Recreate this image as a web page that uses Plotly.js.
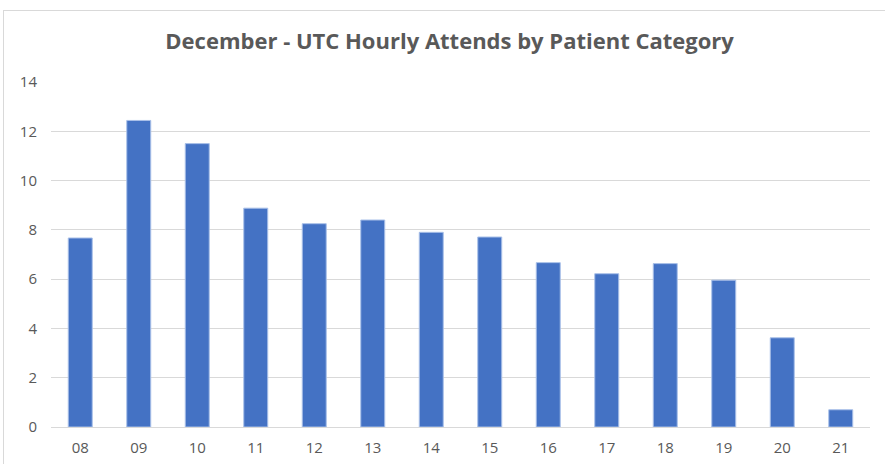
<!DOCTYPE html>
<html>
<head>
<meta charset="utf-8">
<script src="https://cdn.plot.ly/plotly-3.0.1.min.js"></script>
<style>
html,body{margin:0;padding:0;background:#fff;overflow:hidden;}
#chart{width:885px;height:464px;}
#frame{position:absolute;left:3px;top:10px;width:900px;height:470px;border:1px solid #d9d9d9;pointer-events:none;}
</style>
</head>
<body>
<div id="chart"></div>
<div id="frame"></div>
<script>
const hours = ["08","09","10","11","12","13","14","15","16","17","18","19","20","21"];
const attends = [7.67, 12.44, 11.50, 8.88, 8.25, 8.40, 7.90, 7.71, 6.67, 6.22, 6.63, 5.96, 3.62, 0.70];
const yTicks = [0, 2, 4, 6, 8, 10, 12, 14];

const trace = {
  type: "bar",
  x: hours,
  y: attends,
  marker: {color: "#4472C4", line: {color: "#a9c0e8", width: 1}},
  hoverinfo: "x+y"
};

const layout = {
  width: 885,
  height: 464,
  margin: {l: 51, r: 15, t: 82, b: 37},
  paper_bgcolor: "#ffffff",
  plot_bgcolor: "#ffffff",
  showlegend: false,
  bargap: 0.59,
  title: {
    text: "<b>December - UTC Hourly Attends by Patient Category</b>",
    font: {family: "Open Sans, sans-serif", size: 22, color: "#595959"},
    x: 0.508, xanchor: "center",
    y: 0.91, yanchor: "middle"
  },
  xaxis: {
    type: "category",
    tickfont: {family: "Open Sans, sans-serif", size: 15, color: "#595959"},
    showgrid: false,
    showline: true,
    linecolor: "#d9d9d9",
    linewidth: 1,
    ticks: "",
    ticklabelstandoff: 7
  },
  yaxis: {
    range: [0, 14],
    tickvals: yTicks,
    ticktext: yTicks.map(String),
    tickfont: {family: "Open Sans, sans-serif", size: 15, color: "#595959"},
    showgrid: true,
    gridcolor: "#d9d9d9",
    gridwidth: 1,
    zeroline: false,
    showline: false,
    ticks: "",
    ticklabelstandoff: 13
  }
};

Plotly.newPlot("chart", [trace], layout, {displayModeBar: false, staticPlot: true});
</script>
</body>
</html>
